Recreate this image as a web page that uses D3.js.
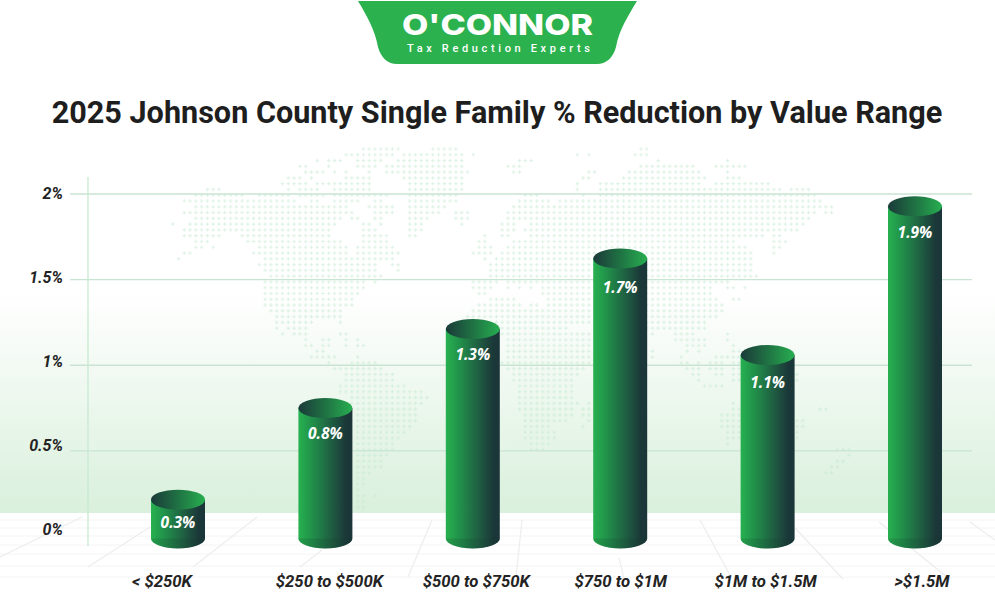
<!DOCTYPE html>
<html>
<head>
<meta charset="utf-8">
<script src="https://cdn.jsdelivr.net/npm/d3@7"></script>
<style>
html,body{margin:0;padding:0;background:#fff;overflow:hidden}
svg{display:block}
text{font-family:Roboto,sans-serif}
</style>
</head>
<body>
<svg id="chart" width="995" height="612"></svg>
<script>
const titleText = "2025 Johnson County Single Family % Reduction by Value Range";
const categories = ["< $250K", "$250 to $500K", "$500 to $750K", "$750 to $1M", "$1M to $1.5M", ">$1.5M"];
const valueLabels = ["0.3%", "0.8%", "1.3%", "1.7%", "1.1%", "1.9%"];
// cylinder height as drawn, read against the axis gridlines
const barValues = [0.212, 0.747, 1.209, 1.62, 1.057, 1.925];
const tickValues = [0, 0.5, 1, 1.5, 2];
const tickLabels = ["0%", "0.5%", "1%", "1.5%", "2%"];
// label fine-tuning
const categoryNudge = [-16, 4, 3.5, 0.5, -2, 7];
const valueNudge = [23, 25, 26, 29, 28, 26];
// decorative dotted world map: [row, firstCol, lastCol, ...]
const mapRuns = [
[0,33,39,45,49,81,82],[1,30,38,40,50,52,52,70,70,72,72,80,82],[2,25,25,27,29,32,36,39,50,60,62,84,84,96,96],
[3,22,23,27,27,32,35,37,50,58,60,81,90,94,99],[4,23,26,28,28,30,30,34,34,37,51,59,60,72,73,79,91,96,96],
[5,20,22,24,24,30,34,40,50,71,72,78,92,96,98],[6,19,23,25,29,30,34,41,50,70,70,74,91,94,103],
[7,6,8,20,20,22,25,28,34,41,50,70,70,74,105,107,110],[8,4,12,15,20,22,26,28,37,41,49,61,63,71,71,74,111],
[9,2,21,24,25,28,32,35,36,41,49,60,65,67,112],[10,4,30,34,38,41,47,59,66,67,114],
[11,2,31,35,38,41,46,49,51,58,111,113,114],[12,4,29,31,32,35,36,41,44,49,51,58,110],
[13,0,0,3,28,33,34,36,36,41,43,50,50,57,59,62,109],[14,2,27,33,35,41,43,57,59,61,108],
[15,2,8,12,27,33,37,41,42,54,54,57,58,62,102,104,105],[16,4,6,13,29,33,37,53,54,59,97,104,106],
[17,4,5,7,7,15,30,32,38,53,55,58,99,104,105],[18,2,3,14,30,32,39,52,55,57,100,104,104],
[19,1,1,16,38,54,54,56,100],[20,15,35,38,39,55,100],[21,16,35,39,39,55,100],[22,17,36,55,101],
[23,16,33,35,35,52,56,58,96],[24,16,33,52,55,58,58,60,60,62,62,64,93,96,97,99,99],[25,16,32,53,54,64,93],
[26,16,31,55,59,65,94,97,98],[27,16,31,53,60,62,63,65,95],[28,17,29,52,95],[29,18,29,51,94],
[30,18,24,29,29,51,92],[31,18,18,20,23,55,68,82,92],[32,19,19,21,23,29,30,57,72,83,83,87,90,96,96],
[33,23,23,26,27,30,30,32,32,58,72,87,92,96,96],[34,23,24,26,27,30,30,32,33,58,72,89,92,97,97],
[35,25,26,58,72,83,83,89,89,91,91,97,98],[36,24,28,32,32,58,72,83,83,88,88,94,96,97,98],
[37,27,27,31,35,57,72,88,89,91,91,93,95,97,98],[38,28,36,58,71,89,91,93,95,97,98],
[39,30,38,59,70,90,91,94,95,97,98,108,108],[40,30,38,59,69,91,91,97,98,108,108],[41,29,40,60,69,92,95],
[42,29,43,60,69],[43,31,44,60,69],[44,31,43,60,70,72,72,97,97],[45,32,42,60,69,71,73,97,98,112,113],
[46,32,42,61,69,71,72,95,98],[47,32,42,61,68,72,72,95,98,108,109],[48,32,41,61,65,71,71,95,98,108,109],
[49,32,40,61,66,96,98,108,108],[50,32,39,61,66,96,98,108,108],[51,32,38,62,65,96,96],
[52,32,38,62,64,115,117],[53,32,37,117,117],[54,32,36,115,116],[55,32,36,114,115],[56,32,34,113,114],
[57,32,33],[58,32,33],[59,32,32],[60,32,33,35,35],[61,32,33],[62,32,33]
];
// floor perspective: [x1, y1, x2, y2]
const floorLines = [[82,517,0,557],[150,527,88,567],[257,517,193,567],[322,550,300,567],[432,520,408,577],[522,520,516,577],
[619,558,624,579],[700,520,731,577],[795,528,843,579],[879,522,947,577],[970,522,995,540]];
const floorRows = [520,528,536,545,554,566,577];

const svg = d3.select("#chart");
const defs = svg.append("defs");

const W = 995, H = 612;
const x = d3.scalePoint().domain(categories).range([178, 915]);
const y = d3.scaleLinear().domain([0, 2]).range([536, 193.5]);
const yLabel = d3.scaleLinear().domain([0, 2]).range([529, 193]);
const mapX = d3.scaleLinear().domain([0, 1]).range([172.7, 178.48]);
const mapY = d3.scaleLinear().domain([0, 1]).range([149, 154.78]);

function grad(id, stops, horizontal) {
  const g = defs.append("linearGradient").attr("id", id)
    .attr("x1", 0).attr("y1", 0).attr("x2", horizontal ? 1 : 0).attr("y2", horizontal ? 0 : 1);
  stops.forEach(s => g.append("stop").attr("offset", s[0]).attr("stop-color", s[1]));
}
grad("bg", [[0, "#ffffff"], [0.12, "#fbfdfb"], [1, "#d9f0dc"]], false);
grad("body", [[0, "#27b150"], [0.25, "#21914a"], [0.6, "#1f5f42"], [0.88, "#1b3839"], [1, "#1b3539"]], true);
grad("cap", [[0, "#1b3a3a"], [0.5, "#1f7243"], [1, "#27ae50"]], true);

// background band and floor
svg.append("rect").attr("x", 0).attr("y", 290).attr("width", W).attr("height", 223).attr("fill", "url(#bg)");
svg.append("g").selectAll("line").data(floorRows).join("line")
  .attr("x1", 0).attr("x2", W).attr("y1", d => d).attr("y2", d => d)
  .attr("stroke", "#f4f4f4").attr("stroke-width", 1);
svg.append("g").selectAll("line").data(floorLines).join("line")
  .attr("x1", d => d[0]).attr("y1", d => d[1]).attr("x2", d => d[2]).attr("y2", d => d[3])
  .attr("stroke", "#ededed").attr("stroke-width", 1.2);

// dotted map
const dots = [];
mapRuns.forEach(r => {
  for (let i = 1; i < r.length; i += 2)
    for (let c = r[i]; c <= r[i + 1]; c++) dots.push([c, r[0]]);
});
const cross = d3.symbol().type(d3.symbolCross).size(7);
svg.append("g").selectAll("path").data(dots).join("path")
  .attr("d", cross)
  .attr("transform", d => `translate(${mapX(d[0])},${mapY(d[1])})`)
  .attr("fill", "#c4e9cf").attr("opacity", 0.5);

// gridlines
const grid = svg.append("g").attr("transform", "translate(70,0)")
  .call(d3.axisLeft(y).tickValues(tickValues.slice(1)).tickSize(-902).tickFormat(""));
grid.select(".domain").remove();
grid.selectAll("line").attr("stroke", "#c9e5d2").attr("stroke-width", 1.3);

// vertical axis line
svg.append("line").attr("x1", 88).attr("x2", 88).attr("y1", 177).attr("y2", 546)
  .attr("stroke", "#c8e9d1").attr("stroke-width", 1.3);

// tick labels
const ticks = svg.append("g").attr("transform", "translate(63,0)")
  .call(d3.axisLeft(yLabel).tickValues(tickValues).tickSize(0).tickPadding(0)
    .tickFormat((d, i) => tickLabels[i]));
ticks.select(".domain").remove();
ticks.selectAll("text").attr("fill", "#232323")
  .style("font", "italic 700 16px Roboto, sans-serif");

// cylinders
const RX = 27, RY = 10;
const barData = categories.map((c, i) => ({ c, v: barValues[i], label: valueLabels[i], i }));
const bars = svg.append("g").selectAll("g").data(barData).join("g");
const baseY = y(0) + 2.5;
bars.append("path")
  .attr("d", d => {
    const cx = x(d.c), t = y(d.v);
    return `M${cx - RX},${t}L${cx - RX},${baseY}A${RX},${RY} 0 0 0 ${cx + RX},${baseY}L${cx + RX},${t}Z`;
  })
  .attr("fill", "url(#body)");
bars.append("path")
  .attr("d", d => {
    const cx = x(d.c);
    return `M${cx - RX},${baseY}A${RX},${RY} 0 0 0 ${cx + RX},${baseY}Z`;
  })
  .attr("fill", "#123a2a").attr("opacity", 0.16);
bars.append("ellipse")
  .attr("cx", d => x(d.c)).attr("cy", d => y(d.v)).attr("rx", RX).attr("ry", RY)
  .attr("fill", "url(#cap)");
bars.append("text")
  .attr("x", d => x(d.c)).attr("y", d => y(d.v) + valueNudge[d.i] + 5.5)
  .attr("text-anchor", "middle").attr("fill", "#fff")
  .style("font", "italic 700 15.5px 'Open Sans', sans-serif")
  .text(d => d.label);

// category labels
svg.append("g").selectAll("text").data(categories).join("text")
  .attr("x", (d, i) => x(d) + categoryNudge[i]).attr("y", 587)
  .attr("text-anchor", "middle").attr("fill", "#232323")
  .style("font", "italic 700 16.7px Roboto, sans-serif")
  .text(d => d);

// title
svg.append("text").attr("x", 497).attr("y", 123).attr("text-anchor", "middle")
  .attr("fill", "#1e1e1e").style("font", "700 30.6px Roboto, sans-serif").text(titleText);

// logo
svg.append("path")
  .attr("d", "M358,1L637,1C628,16 619,30 616,47C613,58 606,64 597,64L397,64C388,64 381,58 378,47C375,30 367,16 358,1Z")
  .attr("fill", "#2bb24e");
svg.append("text").attr("x", 402).attr("y", 34.5).attr("textLength", 191).attr("lengthAdjust", "spacingAndGlyphs")
  .attr("fill", "#fff").style("font", "800 29px Inter, sans-serif").text("O'CONNOR");
svg.append("text").attr("x", 407).attr("y", 52).attr("textLength", 183)
  .attr("fill", "#fff").style("font", "500 11px Roboto, sans-serif").text("Tax Reduction Experts");
</script>
</body>
</html>
